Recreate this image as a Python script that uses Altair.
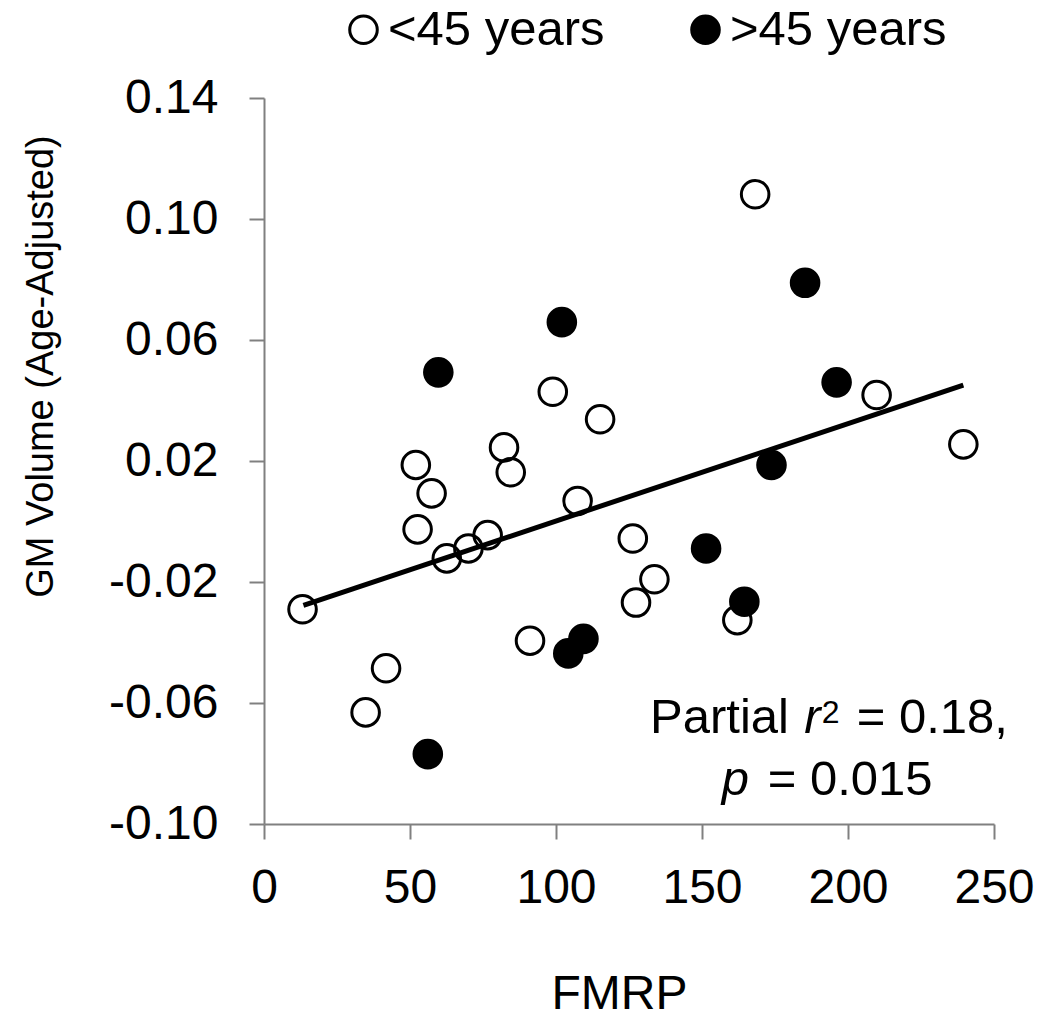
import altair as alt
import pandas as pd

FONT = "Liberation Sans"

# <45 years (open circles)
young_x = [98.9, 115.1, 52.0, 57.4, 82.2, 84.5, 107.4, 52.6, 62.6, 70.0, 76.6,
           126.3, 13.2, 91.1, 41.8, 34.8, 127.4, 168.2, 209.8, 239.5, 133.7, 162.1]
young_y = [0.0429, 0.0338, 0.0187, 0.0093, 0.0245, 0.0163, 0.0068, -0.0026, -0.0122,
           -0.0089, -0.0045, -0.0056, -0.0290, -0.0394, -0.0485, -0.0631, -0.0268,
           0.1082, 0.0418, 0.0255, -0.0191, -0.0326]
# >45 years (filled circles)
old_x = [59.7, 102.0, 185.3, 196.1, 173.8, 151.4, 164.5, 109.4, 104.2, 56.1]
old_y = [0.0493, 0.0659, 0.0789, 0.0460, 0.0187, -0.0089, -0.0265, -0.0388, -0.0436, -0.0769]

groups = ["<45 years", ">45 years"]

# fitted line end points
fit_x = [13.5, 239.5]
fit_y = [-0.0277, 0.0451]

x_ticks = [0, 50, 100, 150, 200, 250]
y_ticks = [-0.10, -0.06, -0.02, 0.02, 0.06, 0.10, 0.14]

pts = pd.DataFrame({
    "fmrp": young_x + old_x,
    "gm": young_y + old_y,
    "group": [groups[0]] * len(young_x) + [groups[1]] * len(old_x),
})
fit = pd.DataFrame({"fmrp": fit_x, "gm": fit_y})
one = pd.DataFrame({"k": [0]})

xenc = alt.X("fmrp:Q", scale=alt.Scale(domain=[0, 250], nice=False, zero=False),
             axis=alt.Axis(values=x_ticks, title="FMRP", format="d",
                           labelBaseline="alphabetic", labelPadding=63,
                           labelFontSize=48, labelFlush=False, labelOverlap=False,
                           titleX=355, titleY=184, titleBaseline="alphabetic",
                           titleAlign="center", titleFontSize=48))
yenc = alt.Y("gm:Q", scale=alt.Scale(domain=[-0.10, 0.14], nice=False, zero=False),
             axis=alt.Axis(values=y_ticks, title="GM Volume (Age-Adjusted)",
                           labelExpr="(datum.value < 0 ? '-' : '') + format(abs(datum.value), '.2f')",
                           labelPadding=31, labelFontSize=48, labelBaseline="middle",
                           labelFlush=False, labelOverlap=False,
                           titleX=-212, titleY=268, titleAngle=270,
                           titleBaseline="alphabetic", titleAlign="center",
                           titleFontSize=38))

points = alt.Chart(pts).mark_point(
    shape="circle", stroke="black", strokeWidth=3, size=760, opacity=1, fillOpacity=1
).encode(
    x=xenc, y=yenc,
    fill=alt.Fill("group:N", scale=alt.Scale(domain=groups, range=["transparent", "black"]),
                  legend=alt.Legend(title=None, orient="none", legendX=67, legendY=-93,
                                    direction="horizontal", symbolType="circle",
                                    symbolSize=760, symbolStrokeWidth=3,
                                    symbolStrokeColor="black", symbolOpacity=1,
                                    symbolOffset=8,
                                    labelFont=FONT, labelFontSize=49, labelColor="black",
                                    labelLimit=0, labelOffset=0, columnPadding=68,
                                    padding=0)),
)

line = alt.Chart(fit).mark_line(color="black", strokeWidth=5).encode(x="fmrp:Q", y="gm:Q")

ann_parts = [
    ("Partial", 132.2, -0.0699, "normal", 49),
    ("r", 185.0, -0.0699, "italic", 49),
    ("2", 191.0, -0.0665, "normal", 32),
    ("= 0.18,", 203.0, -0.0699, "normal", 49),
    ("p", 156.8, -0.0904, "italic", 49),
    ("= 0.015", 172.5, -0.0904, "normal", 49),
]
ann_layers = []
for t, ax, ay, st, fs in ann_parts:
    ann_layers.append(
        alt.Chart(one).mark_text(align="left", baseline="alphabetic", font=FONT,
                                 fontSize=fs, fontStyle=st, color="black").encode(
            x=alt.datum(ax), y=alt.datum(ay), text=alt.value(t))
    )

chart = alt.layer(points, line, *ann_layers).properties(
    width=730, height=726,
    autosize=alt.AutoSizeParams(type="none"),
    padding={"left": 256, "top": 90, "right": 40, "bottom": 195},
).configure_view(stroke=None).configure_axis(
    grid=False, domainColor="#808080", domainWidth=2, tickColor="#808080",
    tickWidth=2, tickSize=15, labelFont=FONT, labelColor="black",
    titleFont=FONT, titleColor="black", titleFontWeight="normal",
)

chart.save("out.html", embed_options={"renderer": "svg", "actions": False})
